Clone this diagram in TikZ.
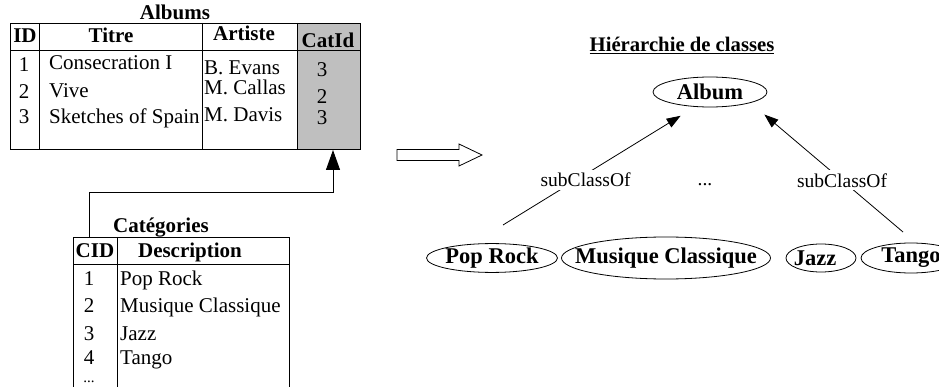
\documentclass[tikz,border=0pt]{standalone}
\usepackage{fontspec}
\setmainfont{Liberation Serif}
\usetikzlibrary{positioning, shapes.geometric, arrows.meta, calc}
\definecolor{catgray}{HTML}{BFBFBF}

\begin{document}
\begin{tikzpicture}[
  x=1pt, y=-1pt,
  font=\fontsize{21}{24}\selectfont,
  tbl/.style={draw, line width=1pt, inner sep=0pt, anchor=north west},
  txt/.style={inner sep=0pt, text height=14pt, text depth=0pt},
  hd/.style={txt, font=\fontsize{21}{24}\selectfont\bfseries},
  cls/.style={draw, ellipse, line width=0.8pt, inner sep=0pt, font=\fontsize{22.5}{26}\selectfont\bfseries},
  rel/.style={-{Triangle[length=14pt, width=10pt]}, line width=0.8pt},
  link/.style={-{Triangle[length=20pt, width=14pt]}, line width=1pt},
  lbl/.style={fill=white, inner sep=3pt, font=\fontsize{19.5}{22}\selectfont},
]
\clip (0,0) rectangle (939,387);

% table Albums
\fill[catgray] (297,23) rectangle (360,149);
\node[tbl, minimum width=350pt, minimum height=126pt] (albums) at (10,23) {};
\draw[line width=0.8pt] (39,23) -- (39,149) (202,23) -- (202,149) (297,23) -- (297,149);
\draw[line width=1pt] (10,51) -- (360,51);

\node[hd] (albums-title) at (175,13) {Albums};
\node[hd] (h-id) at (25,36) {ID};
\node[hd] (h-titre) at (111,36) {Titre};
\node[hd] (h-artiste) at (244,34) {Artiste};
\node[hd] (h-catid) at (328,41) {CatId};

\node[txt] (id1) at (24,65) {1};
\node[txt] (id2) at (24,92) {2};
\node[txt] (id3) at (24,117) {3};
\node[txt, anchor=west] (titre1) at (49,63) {Consecration I};
\node[txt, anchor=west] (titre2) at (49,91) {Vive};
\node[txt, anchor=west] (titre3) at (49,117) {Sketches of Spain};
\node[txt, anchor=west] (artiste1) at (204,68) {B. Evans};
\node[txt, anchor=west] (artiste2) at (204,88) {M. Callas};
\node[txt, anchor=west] (artiste3) at (204,115) {M. Davis};
\node[txt] (cat1) at (322,70) {3};
\node[txt] (cat2) at (322,97) {2};
\node[txt] (cat3) at (322,118) {3};

% table Categories
\node[tbl, minimum width=216pt, minimum height=170pt] (cats) at (73,237) {};
\draw[line width=0.8pt] (117,237) -- (117,407);
\draw[line width=1pt] (73,265) -- (289,265);

\node[hd] (cats-title) at (161,226) {Catégories};
\node[hd] (h-cid) at (95,251) {CID};
\node[hd] (h-desc) at (190,251) {Description};

\node[txt] (cid1) at (89,278) {1};
\node[txt] (cid2) at (89,305) {2};
\node[txt] (cid3) at (89,333) {3};
\node[txt] (cid4) at (89,357) {4};
\node[inner sep=0pt, anchor=base, font=\fontsize{15}{17}\selectfont] (cid-more) at (89,382) {...};
\node[txt, anchor=west] (desc1) at (120,278) {Pop Rock};
\node[txt, anchor=west] (desc2) at (120,305) {Musique Classique};
\node[txt, anchor=west] (desc3) at (120,333) {Jazz};
\node[txt, anchor=west] (desc4) at (120,357) {Tango};

\draw[link] ([xshift=16pt]cats.north west) -- ++(0,-44) -| ([xshift=-28pt]albums.south east);

% transformation
\draw[line width=0.8pt] (397,149.5) -- (459,149.5) -- (459,144) -- (482,155) -- (459,166) -- (459,160.5) -- (397,160.5) -- cycle;

% class hierarchy
\node[inner sep=0pt, anchor=base, font=\fontsize{20.7}{24}\selectfont\bfseries] (hier-title) at (682,52) {\underline{Hiérarchie de classes}};

\node[cls, minimum width=114pt, minimum height=30pt] (album) at (710,92) {\makebox[0pt]{Album}};
\node[cls, minimum width=131pt, minimum height=26pt] (poprock) at (492,258) {\makebox[0pt]{Pop Rock}};
\node[cls, minimum width=209pt, minimum height=42pt] (classique) at (666,258) {\makebox[0pt]{Musique Classique}};
\node[cls, minimum width=70pt, minimum height=28pt] (jazz) at (821,258) {\makebox[0pt]{\hspace*{-12pt}Jazz}};
\node[cls, minimum width=100pt, minimum height=30pt] (tango) at (911,258) {\makebox[0pt]{Tango}};

\coordinate (sub-left) at (503,225);
\coordinate (sub-right) at (903,232);
\draw[rel, shorten >=17pt] (sub-left) -- node[lbl, pos=0.43, yshift=-6pt] (sub-left-lbl) {subClassOf} (album.225);
\draw[rel, shorten >=18pt] (sub-right) -- node[lbl, pos=0.40] (sub-right-lbl) {subClassOf} (album.south east);
\node[font=\fontsize{19.5}{22}\selectfont] (more) at (705,185) {...};
\end{tikzpicture}
\end{document}
